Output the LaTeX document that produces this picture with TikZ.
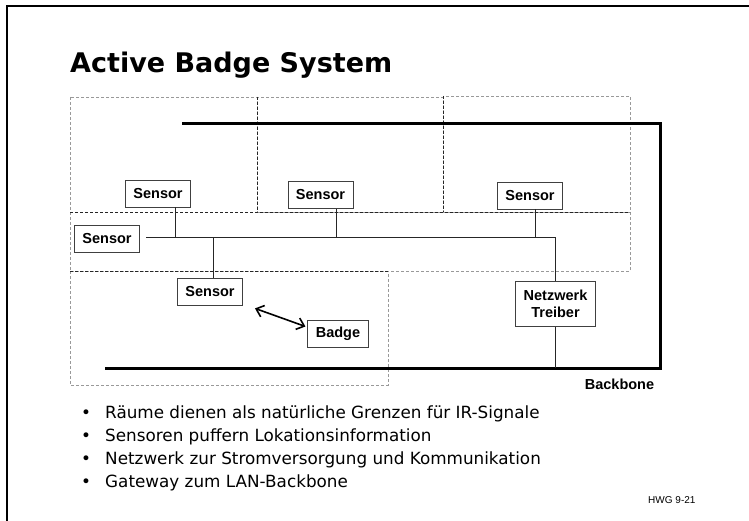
\documentclass[tikz,border=0pt]{standalone}
\usepackage{fontspec}
\setmainfont{DejaVu Sans}
\newfontfamily\arialfont{Liberation Sans}
\usetikzlibrary{arrows.meta}

\begin{document}
\begin{tikzpicture}[x=1pt,y=-1pt,
  room/.style={densely dashed, black!40, line width=0.6pt},
  wall/.style={densely dashed, black!85, line width=0.6pt},
  box/.style={draw=black!75, line width=0.8pt, fill=white, inner xsep=8pt, inner ysep=0pt,
    minimum height=27pt, align=center, font=\arialfont\bfseries\fontsize{14.5}{17}\selectfont},
  wire/.style={black!85, line width=0.8pt},
  backbone/.style={line width=3pt},
  item/.style={anchor=base west, inner sep=0pt, font=\fontsize{16.8}{20}\selectfont}]
\useasboundingbox (0,0) rectangle (749,521);

% frame of the slide
\draw[line width=2.5pt] (7,521) -- (7,6) -- (749,6);

\node[anchor=base west, inner sep=0pt, font=\bfseries\fontsize{27}{32}\selectfont] (title) at (70,73) {Active Badge System};

% rooms and hallway
\draw[room] (70,97) rectangle (257,212);
\draw[room] (257,97) rectangle (443,212);
\draw[room] (443,96) rectangle (630,212);
\draw[room] (70,212) rectangle (630,271);
\draw[room] (70,271) rectangle (388,385);
\draw[wall] (257,97) -- (257,212);
\draw[wall] (443,96) -- (443,212);
\draw[wall] (70,212) -- (630,212);
\draw[wall] (70,271) -- (388,271);

% backbone
\coordinate (bbstart) at (182,124);
\coordinate (bbne) at (660,124);
\coordinate (bbse) at (660,368);
\coordinate (bbend) at (105,368);
\draw[backbone] (bbstart) -- (bbne) -- (bbse) -- (bbend);
\node[font=\arialfont\bfseries\fontsize{14.5}{17}\selectfont] (bblabel) at (619.5,384) {Backbone};

% sensors
\node[box] (s1) at (158,193.5) {Sensor};
\node[box] (s2) at (320.5,195) {Sensor};
\node[box] (s3) at (530,195.5) {Sensor};
\node[box] (s4) at (107,239) {Sensor};
\node[box] (s5) at (210,291.5) {Sensor};
\node[box] (badge) at (338,333.5) {Badge};
\node[box, minimum height=45pt] (treiber) at (555.5,304) {Netzwerk\\Treiber};

% sensor network
\coordinate (busL) at (146,237);
\coordinate (busR) at (555,237);
\draw[wire] (busL) -- (busR) -- (busR |- treiber.north);
\draw[wire] ([xshift=17pt]s1.south) -- ([xshift=17pt]s1.south |- busL);
\draw[wire] ([xshift=15.5pt]s2.south) -- ([xshift=15.5pt]s2.south |- busL);
\draw[wire] ([xshift=5pt]s3.south) -- ([xshift=5pt]s3.south |- busL);
\draw[wire] ([xshift=3pt]s5.north) -- ([xshift=3pt]s5.north |- busL);
\draw[wire] (treiber.south) -- (treiber.south |- bbse);

\draw[<->, >={Straight Barb[length=7pt,width=12pt]}, line width=1.6pt]
  ([shift={(12,3)}]s5.south east) -- ([shift={(-2,-7)}]badge.west);

% bullet list
\foreach \txt [count=\i] in {Räume dienen als natürliche Grenzen für IR-Signale,
  Sensoren puffern Lokationsinformation,
  Netzwerk zur Stromversorgung und Kommunikation,
  Gateway zum LAN-Backbone} {
  \node[item] (item\i) at (105,{395+23*\i}) {\txt};
  \node[item, anchor=base] (dot\i) at (86,{395+23*\i}) {•};
}

\node[anchor=east, font=\arialfont\fontsize{10}{12}\selectfont] (page) at (699,500) {HWG 9-21};
\end{tikzpicture}
\end{document}
